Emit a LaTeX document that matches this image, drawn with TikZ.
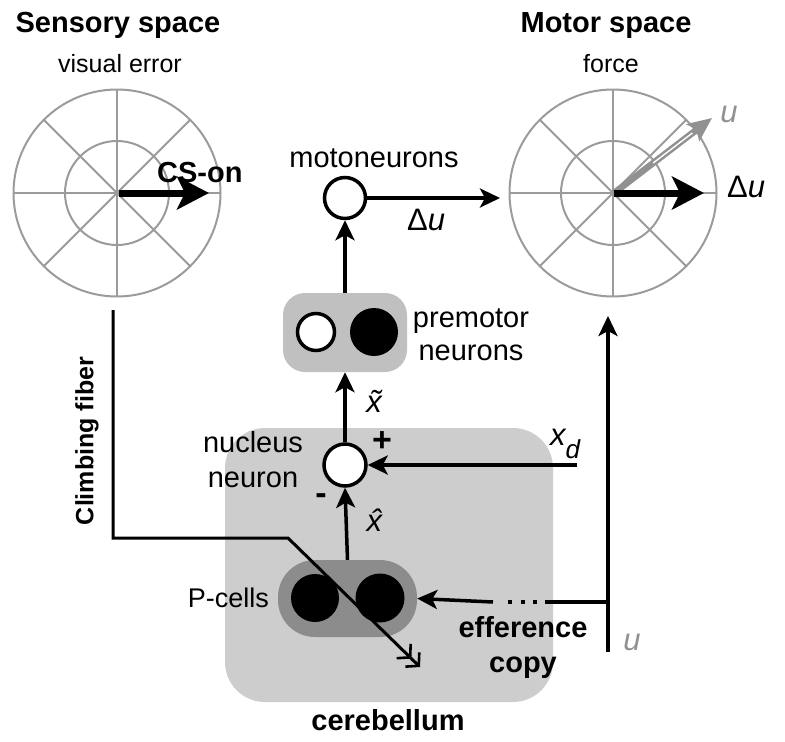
\documentclass[tikz,border=0pt]{standalone}
\usepackage{fontspec}
\setmainfont{Liberation Sans}
\usetikzlibrary{arrows.meta,calc}
\definecolor{cbg}{RGB}{205,205,205}
\definecolor{pmg}{RGB}{192,192,192}
\definecolor{pcg}{RGB}{140,140,140}
\definecolor{polg}{RGB}{155,155,155}
\definecolor{ug}{RGB}{145,145,145}
\begin{document}
\begin{tikzpicture}[x=1pt,y=-1pt,
  big/.style={font=\fontsize{29}{33}\selectfont},
  bigb/.style={font=\fontsize{29}{33}\selectfont\bfseries},
  small/.style={font=\fontsize{25}{28}\selectfont},
  mlbl/.style={font=\fontsize{31}{34}\selectfont},
  neuron/.style={circle,draw=black,line width=3.5pt,fill=white,minimum size=41pt,inner sep=0pt},
  blackneuron/.style={circle,fill=black,minimum size=48pt,inner sep=0pt},
  conn/.style={line width=3.5pt,-{Stealth[length=20pt,width=19pt,inset=5pt]}},
  bigarrow/.style={line width=7pt,-{Stealth[length=32pt,width=33pt,inset=8pt]}},
  grid/.style={polg,line width=2pt},
  plain/.style={line width=3.5pt}
]
\useasboundingbox (0,0) rectangle (785,742);

% polar grids
\foreach \cx in {117,613}{
  \begin{scope}[shift={(\cx,193)}]
    \draw[grid] (0,0) circle[radius=103.5];
    \draw[grid] (0,0) circle[radius=52];
    \foreach \a in {0,45,90,135}
      \draw[grid] (\a:103.5) -- (\a+180:103.5);
  \end{scope}
}
\coordinate (lc) at (119,193);
\coordinate (lt) at (209,193);
\coordinate (rc) at (614,193);
\coordinate (rt) at (704,193);
\coordinate (utip) at (712,118);

\draw[bigarrow] (lc) -- (lt);
\draw[ug,line width=6.5pt,-{Stealth[length=24pt,width=21pt,inset=5pt]}] (rc) -- (utip);
\draw[white,line width=1.4pt] ($(rc)!0.4!(utip)$) -- ($(rc)!0.8!(utip)$);
\draw[bigarrow] (rc) -- (rt);

% titles
\node[bigb,anchor=base] (st) at (118,32) {Sensory space};
\node[small,anchor=base] (ve) at (120,72) {visual error};
\node[bigb,anchor=base] (mt) at (606,32) {Motor space};
\node[small,anchor=base] (fo) at (611,72) {force};
\node[bigb,anchor=base west,inner sep=0pt] (cs) at (157,182) {CS-on};
\node[mlbl,anchor=base west,inner sep=0pt] (du1) at (727,197) {Δ\textit{u}};
\node[mlbl,anchor=base,inner sep=0pt,text=ug] (u1) at (729,122) {\textit{u}};

% cerebellum box
\node[fill=cbg,rounded corners=40pt,minimum width=328pt,minimum height=274pt,inner sep=0pt] (cb) at (389,565) {};
\node[bigb,anchor=base] (cbl) at (388,730) {cerebellum};

% P-cells
\node[fill=pcg,rounded corners=37pt,minimum width=139pt,minimum height=77pt,inner sep=0pt] (pc) at (347.5,598.5) {};
\node[blackneuron] (pc1) at (315,598) {};
\node[blackneuron,minimum size=49pt] (pc2) at (380,598) {};
\node[big,anchor=base east,inner sep=0pt,font=\fontsize{27}{30}\selectfont] (pcl) at (269,607) {P-cells};

% premotor
\node[fill=pmg,rounded corners=22pt,minimum width=124pt,minimum height=79pt,inner sep=0pt] (pm) at (345,332.5) {};
\node[neuron,minimum size=37pt] (pm1) at (316,332) {};
\node[blackneuron] (pm2) at (374,332) {};
\node[big,anchor=base] (pml1) at (471,327) {premotor};
\node[big,anchor=base] (pml2) at (471,360) {neurons};

% motoneurons
\node[neuron] (moto) at (345,198) {};
\node[big,anchor=base] (motol) at (374,167) {motoneurons};
\coordinate (mtip) at (500,198);
\draw[conn] (moto.east) -- (mtip);
\node[mlbl,anchor=base west,inner sep=0pt] (du2) at (407,230) {Δ\textit{u}};

% nucleus
\node[neuron,minimum size=42pt] (nuc) at (345,465) {};
\node[big,anchor=base] (nl1) at (253,452) {nucleus};
\node[big,anchor=base] (nl2) at (253,487) {neuron};
\node[font=\fontsize{34}{36}\selectfont\bfseries] (plus) at (382,442) {+};
\node[font=\fontsize{34}{36}\selectfont\bfseries] (minus) at (321,499) {-};

% vertical connectors
\draw[conn] (pm.north) -- (moto.south);
\draw[conn] (nuc.north) -- (pm.south);
\draw[conn] (pc.north) -- (nuc.south);
\node[mlbl,inner sep=0pt] (xt) at (374,401) {\textit{\~{x}}};
\node[mlbl,inner sep=0pt] (xh) at (377,520) {\textit{\^{x}}};

% x_d
\coordinate (xd) at (577,465);
\draw[conn] (xd) -- (nuc.east);
\node[mlbl,anchor=base west,inner sep=0pt] (xdl) at (550,445) {\textit{x\raisebox{-13pt}{\fontsize{26}{28}\selectfont d}}};

% efference copy
\coordinate (ub) at (608,652);
\coordinate (ut) at (608,316);
\coordinate (uj) at (608,602);
\coordinate (dR) at (545,602);
\coordinate (dL) at (493,602);
\draw[conn] (ub) -- (ut);
\draw[plain] (uj) -- (dR);
\draw[conn] (dL) -- (pc.east);
\foreach \dx in {510,523,535}
  \fill (\dx-2.2,599.8) rectangle (\dx+2.2,604.2);
\node[bigb,anchor=base] (ef1) at (523,637) {efference};
\node[bigb,anchor=base] (ef2) at (523,672) {copy};
\node[mlbl,anchor=base,inner sep=0pt,text=ug] (u2) at (632,650) {\textit{u}};

% climbing fiber
\coordinate (cf0) at (113,310);
\coordinate (cf1) at (113,538);
\coordinate (cf2) at (288,538);
\coordinate (cf3) at (420,667);
\draw[line width=3pt,-{Straight Barb[length=9pt,width=20pt,line width=2.6pt]Straight Barb[length=9pt,width=20pt,line width=2.6pt]}] (cf0) -- (cf1) -- (cf2) -- (cf3);
\node[rotate=90,font=\fontsize{25}{28}\selectfont\bfseries] (cfl) at (87,441) {Climbing fiber};
\end{tikzpicture}
\end{document}
